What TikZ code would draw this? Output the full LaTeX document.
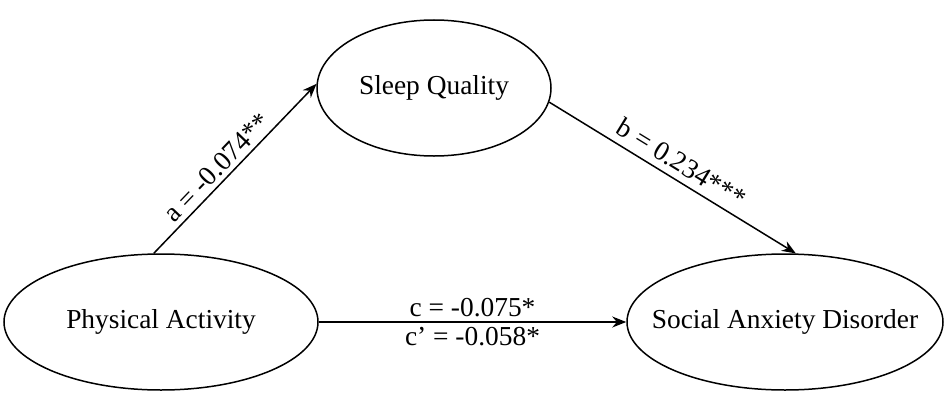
\documentclass[tikz,border=0pt]{standalone}
\usepackage{fontspec}
\setmainfont{Liberation Serif}
\usetikzlibrary{shapes.geometric,arrows.meta}
\begin{document}
\begin{tikzpicture}[x=1bp,y=1bp,
  ell/.style={draw,ellipse,line width=1.5bp,inner xsep=-30bp,inner ysep=0pt,font=\fontsize{27.5}{30}\selectfont},
  conn/.style={line width=1.5bp,-{Stealth[length=14bp,width=11bp]}},
  lab/.style={font=\fontsize{27.5}{30}\selectfont}]
\useasboundingbox (0,0) rectangle (945,405);
\node[ell,minimum width=234bp,minimum height=136bp] (sq) at (434,317) {Sleep Quality};
\node[ell,minimum width=314bp,minimum height=136bp] (pa) at (161,83) {Physical Activity};
\node[ell,minimum width=316bp,minimum height=136bp] (sad) at (785,83) {Social Anxiety Disorder};
\draw[conn] (pa.96) -- node[lab,sloped,above=3bp,pos=0.45,inner sep=1bp] {a = -0.074**} (sq.178);
\draw[conn] (sq.353) -- node[lab,sloped,above=6bp,pos=0.5,inner sep=1bp] {b = 0.234***} (sad.81);
\draw[conn] (pa.east) -- node[lab,above=1bp] {c = -0.075*} node[lab,below=1bp] {c’ = -0.058*} (sad.west);
\end{tikzpicture}
\end{document}
